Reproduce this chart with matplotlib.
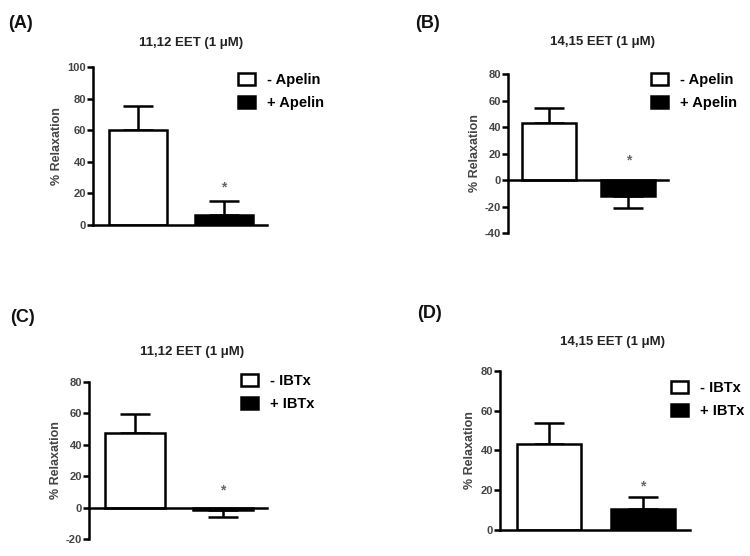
import matplotlib
matplotlib.use("Agg")
import matplotlib.pyplot as plt
import numpy as np
from matplotlib.patches import Patch

plt.rcParams['font.family'] = ['Liberation Sans', 'DejaVu Sans']
plt.rcParams['axes.unicode_minus'] = False

W, H = 750, 556

# ---- data ----
panel_labels = ["(A)", "(B)", "(C)", "(D)"]
titles = ["11,12 EET (1 μM)", "14,15 EET (1 μM)", "11,12 EET (1 μM)", "14,15 EET (1 μM)"]
legend_a = ["- Apelin", "+ Apelin"]
legend_c = ["- IBTx", "+ IBTx"]
means_a = [60, 6.5]
sem_a = [15.5, 9]
means_b = [43, -12]
sem_b = [11, 9.5]
means_c = [47.5, -1.5]
sem_c = [12, 4.2]
means_d = [43, 10.5]
sem_d = [10.5, 6.2]
star_a, star_b, star_c, star_d = 24, 15, 10.6, 22
ylim_a, ylim_b, ylim_c, ylim_d = (0, 100), (-40, 80), (-20, 80), (0, 80)

fig = plt.figure(figsize=(W / 100, H / 100), dpi=100)

def px_axes(x0, x1, ytop, ybot):
    return fig.add_axes([x0 / W, 1 - ybot / H, (x1 - x0) / W, (ybot - ytop) / H])

panels = [
    dict(rect=(93, 267, 67, 225), means=means_a, sem=sem_a, star=star_a, ylim=ylim_a,
         legend=legend_a, leg=(238, 73), title=(191, 43), lab=(8, 24)),
    dict(rect=(508, 668, 74, 233), means=means_b, sem=sem_b, star=star_b, ylim=ylim_b,
         legend=legend_a, leg=(651, 73), title=(602, 42), lab=(415, 24)),
    dict(rect=(89, 267, 381.7, 539), means=means_c, sem=sem_c, star=star_c, ylim=ylim_c,
         legend=legend_c, leg=(241, 374), title=(192, 352), lab=(10, 318)),
    dict(rect=(500, 690, 370.7, 530), means=means_d, sem=sem_d, star=star_d, ylim=ylim_d,
         legend=legend_c, leg=(671, 381), title=(612, 342), lab=(417, 313)),
]

lw = 1.8
gray = '#444444'
for i, p in enumerate(panels):
    ax = px_axes(*p['rect'])
    x = np.arange(2)
    m = np.array(p['means'], dtype=float)
    s = np.array(p['sem'], dtype=float)
    lower = np.where(m < 0, s, 0)
    upper = np.where(m >= 0, s, 0)
    ax.errorbar(x, m, yerr=[lower, upper], fmt='none', ecolor='black',
                elinewidth=lw, capsize=11, capthick=lw, zorder=1)
    ax.bar(x, m, width=0.68, color=['white', 'black'], edgecolor='black',
           linewidth=lw, zorder=2)
    ax.set_xlim(-0.52, 1.5)
    ax.set_ylim(*p['ylim'])
    ax.set_yticks(np.arange(p['ylim'][0], p['ylim'][1] + 1, 20))
    ax.set_xticks([])
    for sp in ['top', 'right']:
        ax.spines[sp].set_visible(False)
    ax.spines['bottom'].set_position(('data', 0))
    ax.spines['left'].set_linewidth(lw)
    ax.spines['bottom'].set_linewidth(lw)
    ax.tick_params(axis='y', length=4, width=lw, labelsize=8, labelcolor=gray, pad=1)
    for t in ax.get_yticklabels():
        t.set_fontweight('bold')
    ax.set_ylabel("% Relaxation", fontsize=9, color=gray, fontweight='bold', labelpad=3)
    ax.text(1, p['star'], '*', ha='center', va='center', fontsize=10, color='#666666',
            fontweight='bold')
    handles = [Patch(facecolor='white', edgecolor='black', linewidth=lw),
               Patch(facecolor='black', edgecolor='black', linewidth=lw)]
    lx, ly = p['leg']
    fig.legend(handles, p['legend'], loc='upper left',
               bbox_to_anchor=(lx / W, 1 - ly / H), frameon=False,
               prop=dict(size=10.5, weight='bold'), handlelength=1.15,
               handleheight=0.8, handletextpad=0.85, labelspacing=0.62,
               borderpad=0, borderaxespad=0)
    tx, ty = p['title']
    fig.text(tx / W, 1 - ty / H, titles[i], ha='center', va='center', fontsize=9.5,
             fontweight='bold', color='#222222')
    lx2, ly2 = p['lab']
    fig.text(lx2 / W, 1 - ly2 / H, panel_labels[i], ha='left', va='center',
             fontsize=13, fontweight='bold', color='#111111')

fig.savefig('out.png', dpi=100)
